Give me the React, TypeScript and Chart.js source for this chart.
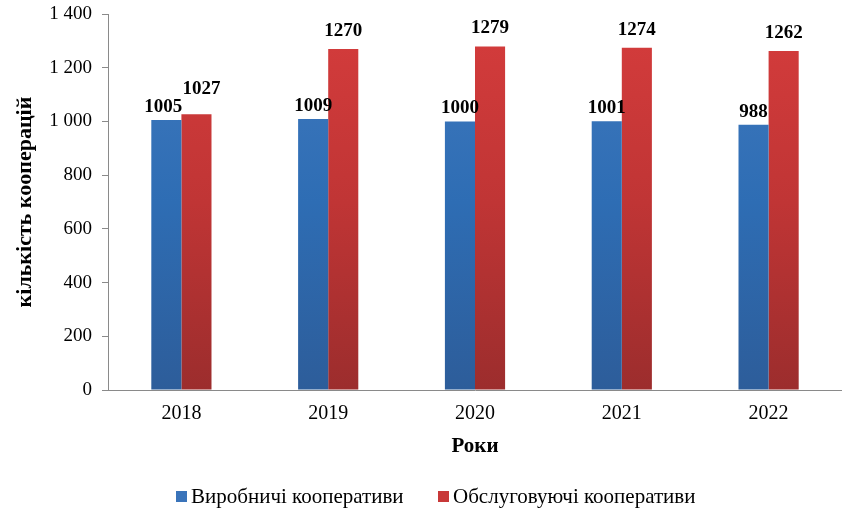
import React, { useEffect, useRef } from "react";
import { Chart, registerables } from "chart.js";

Chart.register(...registerables);

const years = ["2018", "2019", "2020", "2021", "2022"];
const production = [1005, 1009, 1000, 1001, 988];
const service = [1027, 1270, 1279, 1274, 1262];
const seriesNames = ["Виробничі кооперативи", "Обслуговуючі кооперативи"];
const yTicks = [0, 200, 400, 600, 800, 1000, 1200, 1400];
const legendColors = ["#3A74BA", "#C83838"];

const SERIF = "'Liberation Serif', 'Times New Roman', serif";

function grad(ctx: any, stops: [number, string][]) {
  const chart = ctx.chart;
  const area = chart.chartArea;
  if (!area) return stops[0][1];
  const g = chart.ctx.createLinearGradient(0, area.top, 0, area.bottom);
  stops.forEach(([o, c]) => g.addColorStop(o, c));
  return g;
}

const dataLabels = {
  id: "dataLabels",
  afterDatasetsDraw(chart: any) {
    const c = chart.ctx;
    c.save();
    c.font = `bold 19px ${SERIF}`;
    c.fillStyle = "#000";
    c.textAlign = "center";
    c.textBaseline = "alphabetic";
    const m0 = chart.getDatasetMeta(0);
    const m1 = chart.getDatasetMeta(1);
    m0.data.forEach((b0: any, j: number) => {
      const b1 = m1.data[j];
      let y0 = b0.y - 8;
      let y1 = b1.y - 13;
      let x0 = b0.x;
      let x1 = b1.x;
      if (Math.abs(y1 - y0) < 18) {
        y1 = Math.min(y1, y0 - 18);
        x0 -= 3;
        x1 += 5;
      }
      c.fillText(String(production[j]), x0, y0);
      c.fillText(String(service[j]), x1, y1);
    });
    c.restore();
  },
};

const customLegend = {
  id: "customLegend",
  afterDraw(chart: any) {
    const c = chart.ctx;
    c.save();
    c.font = `21px ${SERIF}`;
    c.textBaseline = "middle";
    c.textAlign = "left";
    const y = 497;
    const starts = [176, 438];
    chart.data.datasets.forEach((ds: any, i: number) => {
      const x = starts[i];
      c.fillStyle = legendColors[i];
      c.fillRect(x, y - 6, 11, 11);
      c.fillStyle = "#000";
      c.fillText(ds.label, x + 15, y);
    });
    c.restore();
  },
};

export default function App() {
  const ref = useRef<HTMLCanvasElement>(null);
  useEffect(() => {
    if (!ref.current) return;
    const chart = new Chart(ref.current, {
      type: "bar",
      data: {
        labels: years,
        datasets: [
          {
            label: seriesNames[0],
            data: production,
            backgroundColor: (ctx: any) =>
              grad(ctx, [
                [0, "#4079BE"],
                [0.5, "#2E6DB4"],
                [1, "#2D5D9A"],
              ]),
            borderWidth: 0,
            categoryPercentage: 0.41,
            barPercentage: 1,
          },
          {
            label: seriesNames[1],
            data: service,
            backgroundColor: (ctx: any) =>
              grad(ctx, [
                [0, "#D53C3C"],
                [0.5, "#C03535"],
                [1, "#9C2D2D"],
              ]),
            borderWidth: 0,
            categoryPercentage: 0.41,
            barPercentage: 1,
          },
        ],
      },
      options: {
        animation: false,
        responsive: false,
        maintainAspectRatio: false,
        layout: { padding: { left: 0, right: 0, top: 14, bottom: 54 } },
        plugins: {
          legend: { display: false },
          tooltip: { enabled: false },
        },
        scales: {
          x: {
            grid: { display: false, drawTicks: false },
            border: { color: "#8a8a8a", width: 1 },
            ticks: { font: { family: SERIF, size: 20 }, color: "#000", padding: 12 },
            title: {
              display: true,
              text: "Роки",
              font: { family: SERIF, size: 21, weight: "bold" },
              color: "#000",
              padding: { top: 0, bottom: 0 },
            },
            afterFit: (s: any) => {
              s.height = 69;
              s.paddingLeft = 0;
              s.paddingRight = 0;
            },
          },
          y: {
            min: 0,
            max: 1400,
            afterBuildTicks: (s: any) => {
              s.ticks = yTicks.map((v) => ({ value: v }));
            },
            grid: { display: true, drawOnChartArea: false, tickLength: 6, color: "#8a8a8a" },
            border: { color: "#8a8a8a", width: 1 },
            ticks: {
              font: { family: SERIF, size: 19 },
              color: "#000",
              padding: 10,
              callback: (v: any) => String(v).replace(/\B(?=(\d{3})+(?!\d))/g, " "),
            },
            title: {
              display: true,
              text: "кількість кооперацій",
              font: { family: SERIF, size: 22, weight: "bold" },
              color: "#000",
              padding: { top: 12, bottom: 0 },
            },
            afterFit: (s: any) => {
              s.width = 108;
              s.paddingTop = 0;
              s.paddingBottom = 0;
            },
          },
        },
      },
      plugins: [dataLabels, customLegend],
    });
    return () => chart.destroy();
  }, []);
  return (
    <div style={{ position: "fixed", left: 0, top: 0, width: 842, height: 513, background: "#fff" }}>
      <canvas ref={ref} width={842} height={513} style={{ width: 842, height: 513 }} />
    </div>
  );
}
